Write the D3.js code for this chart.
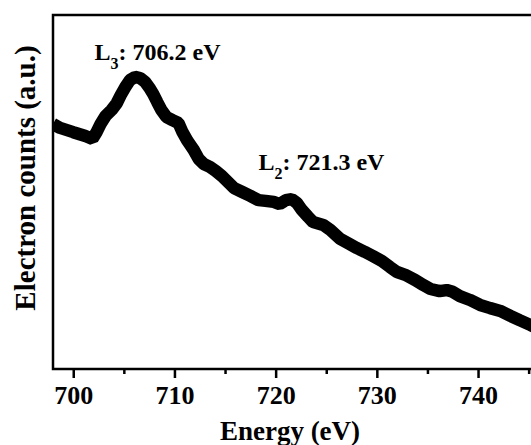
<!DOCTYPE html>
<html>
  <head>
    <script src="https://d3js.org/d3.v7.min.js"></script>
    <style>
      body { margin: 0; background: #fff; }
      text { font-family: "Liberation Serif", "Times New Roman", serif; font-weight: bold; fill: #000; }
    </style>
  </head>
  <body>
    <script>

    // EELS Fe L-edge spectrum
    const energy = [698.0, 698.7, 700.0, 701.2, 701.9, 702.3, 702.7, 703.2, 703.8, 704.3,
      704.7, 705.2, 705.6, 706.1, 706.6, 707.1, 707.6, 707.9, 708.3, 708.7,
      709.2, 709.8, 710.4, 710.8, 711.3, 711.9, 712.4, 712.9, 713.5, 714.1,
      714.7, 715.3, 715.9, 716.7, 717.5, 718.3, 719.0, 719.8, 720.4, 721.0,
      721.6, 722.1, 722.6, 723.2, 723.7, 724.7, 725.4, 726.4, 727.3, 728.0,
      728.8, 729.6, 730.5, 731.3, 732.0, 732.8, 733.8, 734.6, 735.3, 736.2,
      736.9, 737.5, 738.2, 739.2, 740.2, 741.2, 742.2, 743.2, 744.1, 745.2, 746.0];
    const counts = [69.2, 68.1, 66.9, 65.8, 65.0, 66.9, 69.2, 71.5, 73.2, 75.1,
      77.4, 79.9, 81.6, 82.5, 82.2, 81.1, 79.1, 77.7, 75.4, 73.2,
      71.2, 70.3, 69.5, 66.9, 64.4, 61.9, 59.3, 57.9, 57.1, 55.9,
      54.5, 52.8, 51.1, 50.0, 48.9, 47.7, 47.5, 47.2, 46.6, 47.7,
      48.0, 46.9, 44.9, 43.0, 41.5, 40.7, 39.3, 36.7, 35.3, 34.2,
      33.1, 31.9, 30.5, 28.8, 27.4, 26.6, 25.1, 23.7, 22.6, 22.0,
      22.3, 21.8, 20.6, 19.5, 18.1, 17.2, 16.4, 15.0, 13.8, 12.4, 11.3];

    const majorTicks = [700, 710, 720, 730, 740];
    const minorTicks = [705, 715, 725, 735, 745];

    const peaks = [
      { name: "L", sub: "3", label: ": 706.2 eV", x: 702.1, y: 87.2 },
      { name: "L", sub: "2", label: ": 721.3 eV", x: 718.3, y: 56.2 }
    ];

    const width = 531, height = 445;
    const mLeft = 53, mTop = 15, mBottom = 369, mRight = 559;

    const x = d3.scaleLinear().domain([698, 748]).range([mLeft, mRight]);
    const y = d3.scaleLinear().domain([0, 100]).range([mBottom, mTop]);

    const svg = d3.select("body").append("svg")
        .attr("width", width)
        .attr("height", height);

    svg.append("defs").append("clipPath").attr("id", "plot")
      .append("rect")
        .attr("x", mLeft).attr("y", mTop)
        .attr("width", mRight - mLeft).attr("height", mBottom - mTop);

    const line = d3.line()
        .x((d, i) => x(energy[i]))
        .y(d => y(d));

    svg.append("path")
        .datum(counts)
        .attr("clip-path", "url(#plot)")
        .attr("fill", "none")
        .attr("stroke", "#000")
        .attr("stroke-width", 12.5)
        .attr("stroke-linejoin", "bevel")
        .attr("d", line);

    // frame
    svg.append("rect")
        .attr("x", mLeft).attr("y", mTop)
        .attr("width", mRight - mLeft).attr("height", mBottom - mTop)
        .attr("fill", "none")
        .attr("stroke", "#000")
        .attr("stroke-width", 2.5);

    // x axis ticks
    const xAxis = svg.append("g").attr("transform", `translate(0,${mBottom})`)
      .call(d3.axisBottom(x).tickValues(majorTicks).tickSize(9).tickPadding(4).tickFormat(d3.format("d")));
    xAxis.select(".domain").remove();
    xAxis.selectAll("line").attr("stroke-width", 2.5);
    xAxis.selectAll("text").attr("font-size", 26).attr("font-family", null).attr("dy", "0.85em");

    const xMinor = svg.append("g").attr("transform", `translate(0,${mBottom})`)
      .call(d3.axisBottom(x).tickValues(minorTicks).tickSize(5).tickFormat(""));
    xMinor.select(".domain").remove();
    xMinor.selectAll("line").attr("stroke-width", 2.5);

    svg.append("text")
        .attr("x", 290).attr("y", 440)
        .attr("text-anchor", "middle")
        .attr("font-size", 27)
        .text("Energy (eV)");

    svg.append("text")
        .attr("transform", `translate(35,178) rotate(-90)`)
        .attr("text-anchor", "middle")
        .attr("font-size", 29)
        .text("Electron counts (a.u.)");

    const ann = svg.selectAll(".peak").data(peaks).enter().append("text")
        .attr("class", "peak")
        .attr("x", d => x(d.x))
        .attr("y", d => y(d.y))
        .attr("font-size", 24);
    ann.append("tspan").text(d => d.name);
    ann.append("tspan").attr("font-size", 16).attr("dy", 9).text(d => d.sub);
    ann.append("tspan").attr("dy", -9).text(d => d.label);

    </script>
  </body>
</html>
